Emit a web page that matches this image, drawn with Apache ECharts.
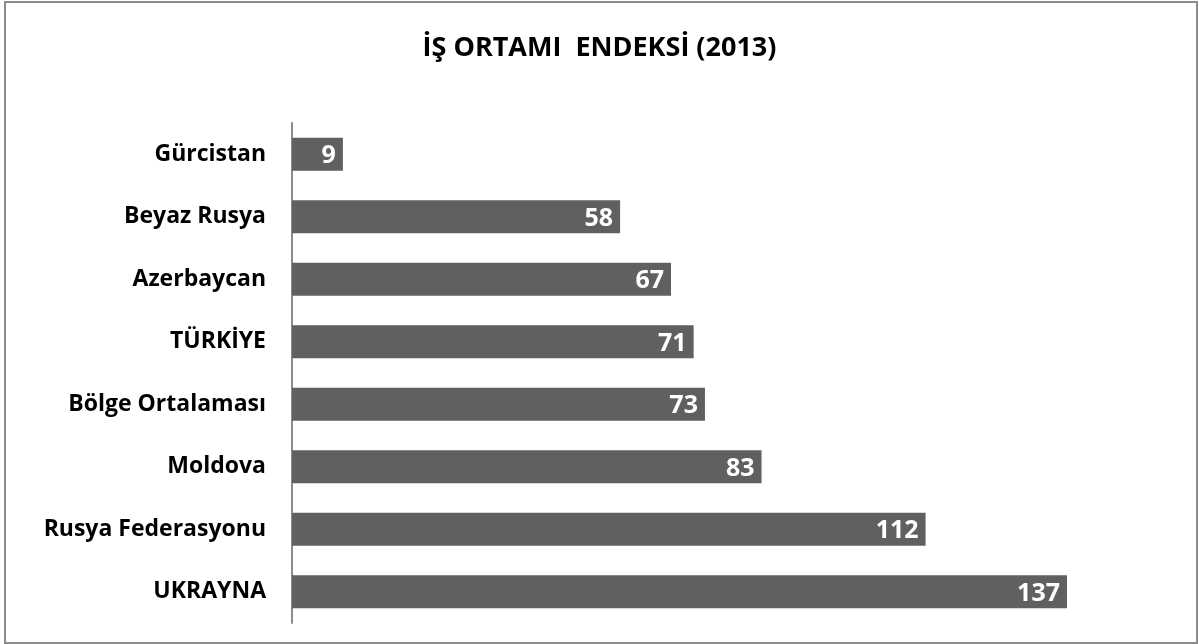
<!DOCTYPE html>
<html>
<head>
<meta charset="utf-8">
<script src="https://cdn.jsdelivr.net/npm/echarts@6/dist/echarts.min.js"></script>
<style>
html, body { margin: 0; padding: 0; background: #fff; }
#frame { position: absolute; left: 4px; top: 1px; width: 1194px; height: 643px; border: 2px solid #8c8c8c; box-sizing: border-box; }
#main { position: absolute; left: 0; top: 0; width: 1199px; height: 644px; }
</style>
</head>
<body>
<div id="frame"></div>
<div id="main"></div>
<script>
// kategoriler ust -> alt
var ulkeler = ['Gürcistan', 'Beyaz Rusya', 'Azerbaycan', 'TÜRKİYE', 'Bölge Ortalaması', 'Moldova', 'Rusya Federasyonu', 'UKRAYNA']
var degerler = [9, 58, 67, 71, 73, 83, 112, 137]

var myChart = echarts.init(document.getElementById('main'))

var option = {
    animation: false,
    title: {
        text: 'İŞ ORTAMI  ENDEKSİ (2013)',
        left: 'center',
        top: 30,
        textStyle: {
            fontFamily: 'Open Sans',
            fontWeight: 'bold',
            fontSize: 27,
            color: '#000'
        }
    },
    grid: {
        left: 292,
        top: 123,
        width: 775,
        height: 500
    },
    xAxis: {
        type: 'value',
        min: 0,
        max: 137,
        show: false
    },
    yAxis: {
        type: 'category',
        inverse: true,
        data: ulkeler,
        axisLine: { show: true, lineStyle: { color: '#8c8c8c', width: 2 } },
        axisTick: { show: false },
        axisLabel: {
            margin: 26,
            fontFamily: 'Open Sans',
            fontWeight: 'bold',
            fontSize: 23,
            color: '#000'
        }
    },
    series: [{
        type: 'bar',
        data: degerler,
        barWidth: 33,
        itemStyle: { color: '#606060' },
        label: {
            show: true,
            position: 'insideRight',
            distance: 7,
            offset: [0, 2],
            fontFamily: 'Open Sans',
            fontWeight: 'bold',
            fontSize: 25,
            color: '#fff'
        }
    }]
}
myChart.setOption(option)
</script>
</body>
</html>
